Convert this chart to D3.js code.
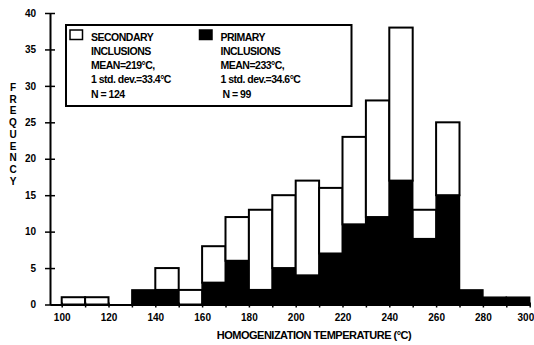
<!DOCTYPE html>
<html><head><meta charset="utf-8">
<script src="https://cdn.jsdelivr.net/npm/d3@7"></script>
<style>body{margin:0;background:#fff}svg{display:block}text{font-family:"Liberation Sans",Arial,sans-serif;fill:#000}</style>
</head><body><svg id="c" width="534" height="345"></svg>
<script>
const binStarts = [100,110,120,130,140,150,160,170,180,190,200,210,220,230,240,250,260,270,280,290];
const primary   = [0,0,0,2,2,0,3,6,2,5,4,7,11,12,17,9,15,2,1,1];
const secondary = [1,1,0,0,3,2,5,6,11,10,13,9,12,16,21,4,10,0,0,0];
const binWidth = 10;
const yTicks = [0,5,10,15,20,25,30,35,40];
const xLabelTicks = [100,120,140,160,180,200,220,240,260,280,300];
const xMinorTicks = d3.range(100,301,10);
const legendItems = [
  {fill:"#fff", lines:["SECONDARY","INCLUSIONS","MEAN=219°C,","1 std. dev.=33.4°C","N = 124"]},
  {fill:"#000", lines:["PRIMARY","INCLUSIONS","MEAN=233°C,","1 std. dev.=34.6°C","N = 99"]}
];
const yTitle = "FREQUENCY";
const xTitle = "HOMOGENIZATION TEMPERATURE (°C)";

const svg = d3.select("#c");
const x = d3.scaleLinear().domain([95,300]).range([50,529.7]);
const y = d3.scaleLinear().domain([0,40]).range([304.5,13]);

const data = binStarts.map((b,i)=>({b, p:primary[i], s:secondary[i]}));

const g = svg.append("g");
g.selectAll("rect.p").data(data.filter(d=>d.p>0)).join("rect")
  .attr("x", d=>x(d.b)).attr("width", d=>x(d.b+binWidth)-x(d.b))
  .attr("y", d=>y(d.p)).attr("height", d=>y(0)-y(d.p))
  .attr("fill","#000").attr("stroke","#000").attr("stroke-width",1.5);
g.selectAll("rect.s").data(data.filter(d=>d.s>0)).join("rect")
  .attr("x", d=>x(d.b)).attr("width", d=>x(d.b+binWidth)-x(d.b))
  .attr("y", d=>y(d.p+d.s)).attr("height", d=>y(d.p)-y(d.p+d.s))
  .attr("fill","#fff").attr("stroke","#000").attr("stroke-width",2);

const ya = svg.append("g").attr("transform",`translate(${x(95)},0)`)
  .call(d3.axisLeft(y).tickValues(yTicks).tickSizeInner(5).tickSizeOuter(0).tickPadding(9));
ya.select(".domain").attr("stroke-width",2);
ya.selectAll(".tick line").attr("x2",5).attr("x1",-5).attr("stroke-width",1.5);
ya.selectAll(".tick text").style("font-size","10px").style("font-weight","bold");

const xa = svg.append("g").attr("transform",`translate(0,${y(0)})`)
  .call(d3.axisBottom(x).tickValues(xMinorTicks).tickSizeInner(3).tickSizeOuter(0).tickPadding(6)
    .tickFormat(d=>xLabelTicks.includes(d)?d:""));
xa.select(".domain").attr("stroke-width",2);
xa.selectAll(".tick line").attr("y1",-2).attr("stroke-width",1.5);
xa.selectAll(".tick text").style("font-size","10px").style("font-weight","bold")
  .attr("text-anchor", d=>d===300?"end":"middle").attr("dx", d=>d===300?"4":"0");

svg.append("text").attr("x",314).attr("y",339).attr("text-anchor","middle")
  .style("font-size","11px").style("font-weight","bold").style("letter-spacing","-0.5px").text(xTitle);
svg.append("g").selectAll("text").data(yTitle.split("")).join("text")
  .attr("x",13).attr("y",(d,i)=>91+i*11.7).attr("text-anchor","middle")
  .style("font-size","10px").style("font-weight","bold").text(d=>d);

const lg = svg.append("g");
lg.append("rect").attr("x",66).attr("y",25).attr("width",285.5).attr("height",81)
  .attr("fill","#fff").attr("stroke","#000").attr("stroke-width",2);
const lx = [70,199.5];
legendItems.forEach((it,k)=>{
  lg.append("rect").attr("x",lx[k]).attr("y",30).attr("width",12.5).attr("height",9.5)
    .attr("fill",it.fill).attr("stroke","#000").attr("stroke-width",1.5);
  it.lines.forEach((t,j)=>{
    lg.append("text").attr("x",lx[k]+21 + (k===1&&j===4?2:0)).attr("y",40.5+j*14.3)
      .style("font-size","10.5px").style("font-weight","bold").style("letter-spacing","-0.5px").text(t);
  });
});
</script></body></html>
